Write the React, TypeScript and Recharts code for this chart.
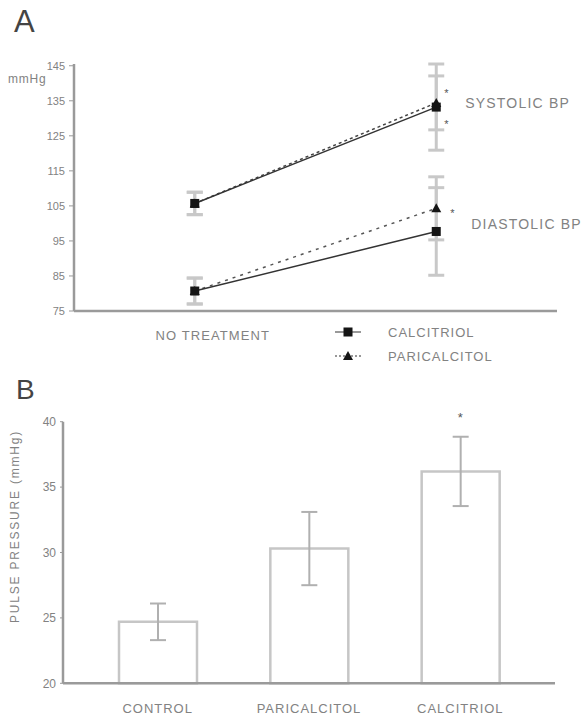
import React from "react";
import {
  ComposedChart,
  Line,
  Bar,
  XAxis,
  YAxis,
  ErrorBar,
  ReferenceDot,
} from "recharts";

// ---- Panel A: blood pressure ----
const timepoints = [1, 3];
const timeLabels = ["NO TREATMENT", ""];
const calcitriolSystolic = [105.7, 133.2];
const calcitriolSystolicSE = [3.2, 12.3];
const paricalcitolSystolic = [105.7, 134.4];
const paricalcitolSystolicSE = [3.2, 7.7];
const calcitriolDiastolic = [80.7, 97.7];
const calcitriolDiastolicSE = [3.7, 12.5];
const paricalcitolDiastolic = [80.7, 104.3];
const paricalcitolDiastolicSE = [3.7, 9.0];
const bpTicks = [75, 85, 95, 105, 115, 125, 135, 145];
const legendItems = ["CALCITRIOL", "PARICALCITOL"];

// ---- Panel B: pulse pressure ----
const groups = ["CONTROL", "PARICALCITOL", "CALCITRIOL"];
const pulsePressure = [24.7, 30.3, 36.2];
const pulsePressureSE = [1.4, 2.8, 2.65];
const ppTicks = [20, 25, 30, 35, 40];

const bpData = timepoints.map((x, i) => ({
  x,
  label: timeLabels[i],
  cSys: calcitriolSystolic[i],
  cSysE: calcitriolSystolicSE[i],
  pSys: paricalcitolSystolic[i],
  pSysE: paricalcitolSystolicSE[i],
  cDia: calcitriolDiastolic[i],
  cDiaE: calcitriolDiastolicSE[i],
  pDia: paricalcitolDiastolic[i],
  pDiaE: paricalcitolDiastolicSE[i],
}));

const ppData = groups.map((name, i) => ({
  name,
  value: pulsePressure[i],
  err: pulsePressureSE[i],
}));

const FONT = "'Liberation Sans', Arial, sans-serif";
const AXIS = "#9a9a9a";
const TEXT = "#828282";
const EB = "#c8c8c8";

const SquareDot = (props: any) => {
  const { cx, cy } = props;
  if (cx == null || cy == null) return null;
  return <rect x={cx - 4.5} y={cy - 4.5} width={9} height={9} fill="#151515" />;
};
const TriangleDot = (props: any) => {
  const { cx, cy } = props;
  if (cx == null || cy == null) return null;
  return (
    <polygon
      points={`${cx},${cy - 5} ${cx + 5},${cy + 4} ${cx - 5},${cy + 4}`}
      fill="#151515"
    />
  );
};

const BpXTick = (props: any) => {
  const { x, y, index } = props;
  return (
    <text
      x={x + 18}
      y={y + 21}
      textAnchor="middle"
      fontSize={13}
      letterSpacing={1.1}
      fill={TEXT}
      fontFamily={FONT}
    >
      {bpData[index] ? bpData[index].label : ""}
    </text>
  );
};

const textLabel = (
  value: string,
  offset: number,
  size: number,
  dy = 0,
  spacing = 0,
  fill = TEXT
) => ({
  value,
  position: "right" as const,
  offset,
  fontSize: size,
  fill,
  fontFamily: FONT,
  letterSpacing: spacing,
  dy,
});

const PPYLabel = (props: any) => {
  const vb = props.viewBox || { x: 0, y: 0, height: 0 };
  const cx = vb.x + 16;
  const cy = vb.y + vb.height / 2 - 26;
  return (
    <text
      x={cx}
      y={cy}
      transform={`rotate(-90, ${cx}, ${cy})`}
      textAnchor="middle"
      dominantBaseline="middle"
      fontSize={12}
      letterSpacing={1.8}
      fill={TEXT}
      fontFamily={FONT}
    >
      PULSE PRESSURE (mmHg)
    </text>
  );
};

export default function App() {
  return (
    <div
      style={{
        position: "absolute",
        left: 0,
        top: 0,
        width: 585,
        height: 715,
        background: "#fff",
        overflow: "hidden",
      }}
    >
      <div
        style={{
          position: "absolute",
          left: 14,
          top: 6,
          fontFamily: FONT,
          fontSize: 31,
          color: "#444",
          lineHeight: 1,
        }}
      >
        A
      </div>
      <div
        style={{
          position: "absolute",
          left: 8,
          top: 73,
          fontFamily: FONT,
          fontSize: 12,
          letterSpacing: 0.8,
          color: TEXT,
          lineHeight: 1,
        }}
      >
        mmHg
      </div>
      <div style={{ position: "absolute", left: 0, top: 0 }}>
        <ComposedChart
          width={585}
          height={345}
          data={bpData}
          margin={{ top: 64, right: 28, bottom: 0, left: 0 }}
        >
          <XAxis
            type="number"
            dataKey="x"
            domain={[0, 4]}
            ticks={[1]}
            tick={<BpXTick />}
            tickLine={false}
            axisLine={{ stroke: AXIS, strokeWidth: 2.5 }}
            height={34}
          />
          <YAxis
            type="number"
            domain={[75, 145]}
            ticks={bpTicks}
            interval={0}
            width={74}
            tickSize={5}
            tickMargin={4}
            tickLine={{ stroke: AXIS }}
            axisLine={{ stroke: AXIS, strokeWidth: 2.5 }}
            tick={{ fontSize: 11, fill: TEXT, fontFamily: FONT }}
          />
          <Line
            dataKey="pSys"
            stroke="#444"
            strokeWidth={1.5}
            strokeDasharray="3 3"
            dot={<TriangleDot />}
            isAnimationActive={false}
          >
            <ErrorBar dataKey="pSysE" direction="y" width={8} stroke={EB} strokeWidth={3} />
          </Line>
          <Line
            dataKey="cSys"
            stroke="#333"
            strokeWidth={1.5}
            dot={<SquareDot />}
            isAnimationActive={false}
          >
            <ErrorBar dataKey="cSysE" direction="y" width={8} stroke={EB} strokeWidth={3} />
          </Line>
          <Line
            dataKey="pDia"
            stroke="#555"
            strokeWidth={1.5}
            strokeDasharray="3 5"
            dot={<TriangleDot />}
            isAnimationActive={false}
          >
            <ErrorBar dataKey="pDiaE" direction="y" width={8} stroke={EB} strokeWidth={3} />
          </Line>
          <Line
            dataKey="cDia"
            stroke="#333"
            strokeWidth={1.5}
            dot={<SquareDot />}
            isAnimationActive={false}
          >
            <ErrorBar dataKey="cDiaE" direction="y" width={8} stroke={EB} strokeWidth={3} />
          </Line>
          <ReferenceDot x={3} y={134.3} r={0} label={textLabel("SYSTOLIC BP", 29, 14, 0, 1.2)} />
          <ReferenceDot x={3} y={99.9} r={0} label={textLabel("DIASTOLIC BP", 35, 14, 0, 1.2)} />
          <ReferenceDot x={3} y={138.2} r={0} label={textLabel("*", 8, 11, 4, 0, "#555")} />
          <ReferenceDot x={3} y={130.2} r={0} label={textLabel("*", 8, 11, 6, 0, "#555")} />
          <ReferenceDot x={3} y={104.2} r={0} label={textLabel("*", 14, 11, 4, 0, "#555")} />
        </ComposedChart>
      </div>

      <div
        style={{
          position: "absolute",
          left: 333,
          top: 320,
          fontFamily: FONT,
          fontSize: 13,
          letterSpacing: 1,
          color: TEXT,
        }}
      >
        {legendItems.map((name, i) => (
          <div
            key={name}
            style={{ display: "flex", alignItems: "center", height: 24 }}
          >
            <svg width={30} height={12}>
              <line
                x1={2}
                y1={6}
                x2={28}
                y2={6}
                stroke="#777"
                strokeWidth={1.5}
                strokeDasharray={i === 0 ? undefined : "2 2"}
              />
              {i === 0 ? (
                <rect x={10.5} y={1.5} width={9} height={9} fill="#151515" />
              ) : (
                <polygon points="15,1 20,10 10,10" fill="#151515" />
              )}
            </svg>
            <span style={{ marginLeft: 25 }}>{name}</span>
          </div>
        ))}
      </div>

      <div
        style={{
          position: "absolute",
          left: 16,
          top: 376,
          fontFamily: FONT,
          fontSize: 28,
          color: "#444",
          lineHeight: 1,
        }}
      >
        B
      </div>
      <div style={{ position: "absolute", left: 0, top: 380 }}>
        <ComposedChart
          width={585}
          height={335}
          data={ppData}
          margin={{ top: 41.7, right: 30, bottom: 0, left: 0 }}
        >
          <XAxis
            dataKey="name"
            type="category"
            padding={{ left: 19, right: 19 }}
            tickLine={false}
            axisLine={{ stroke: AXIS, strokeWidth: 2.5 }}
            tick={{ fontSize: 13, fill: TEXT, fontFamily: FONT, dy: 12, letterSpacing: 1 }}
            height={31.7}
            interval={0}
          />
          <YAxis
            type="number"
            domain={[20, 40]}
            ticks={ppTicks}
            interval={0}
            width={63}
            tickSize={3}
            tickMargin={4}
            tickLine={{ stroke: AXIS }}
            axisLine={{ stroke: AXIS, strokeWidth: 2.5 }}
            tick={{ fontSize: 12, fill: TEXT, fontFamily: FONT }}
            label={<PPYLabel />}
          />
          <Bar
            dataKey="value"
            fill="#fff"
            stroke="#c6c6c6"
            strokeWidth={2.5}
            barSize={78}
            isAnimationActive={false}
          >
            <ErrorBar dataKey="err" direction="y" width={8} stroke="#b0b0b0" strokeWidth={2} />
          </Bar>
          <ReferenceDot
            x="CALCITRIOL"
            y={40.6}
            r={0}
            ifOverflow="visible"
            label={{ value: "*", position: "center", fontSize: 13, fill: "#555", fontFamily: FONT, dy: 4 }}
          />
        </ComposedChart>
      </div>
    </div>
  );
}
